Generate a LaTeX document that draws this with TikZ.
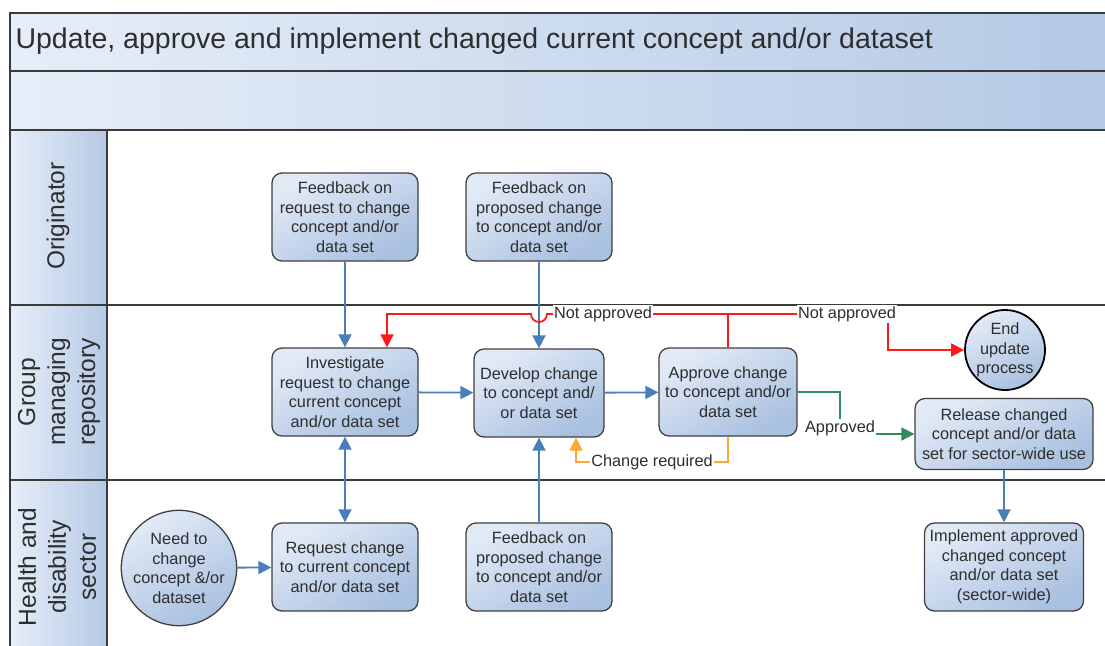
\documentclass[tikz,border=0pt]{standalone}
\usepackage{fontspec}
\setmainfont{Liberation Sans}
\usetikzlibrary{arrows.meta,shapes.geometric,calc}
\definecolor{boxlight}{HTML}{E2EAF6}
\definecolor{boxdark}{HTML}{A9C0E0}
\definecolor{hdrlight}{HTML}{E6EEF8}
\definecolor{hdrdark}{HTML}{B5C9E5}
\definecolor{frame}{HTML}{3A3A3A}
\definecolor{boxline}{HTML}{404040}
\definecolor{txt}{HTML}{2E2E2E}
\definecolor{flowblue}{HTML}{4A7EBB}
\definecolor{flowred}{HTML}{FF1A1A}
\definecolor{floworange}{HTML}{FFA833}
\definecolor{flowgreen}{HTML}{2E8B5A}
\tikzset{
  stepbox/.style={draw=boxline, line width=1.3pt, rounded corners=10pt,
    top color=boxlight, bottom color=boxdark, shading angle=30,
    minimum width=146pt, minimum height=88pt, inner sep=1pt, align=center,
    text=txt, font=\fontsize{16.3}{19.5}\selectfont},
  roundnode/.style={circle, draw=boxline, line width=1.3pt,
    top color=boxlight, bottom color=boxdark, shading angle=30,
    inner sep=0pt, align=center, text=txt, font=\fontsize{16.3}{19.5}\selectfont},
  lanelbl/.style={rotate=90, align=center, text=txt, font=\fontsize{24.5}{30}\selectfont},
  flowlbl/.style={fill=white, inner sep=1.5pt, text=txt, font=\fontsize{16.3}{18}\selectfont},
  tip/.style={-{Triangle[length=13pt,width=13pt]}},
  blueflow/.style={draw=flowblue, line width=1.8pt},
  redflow/.style={draw=flowred, line width=1.8pt},
  orangeflow/.style={draw=floworange, line width=1.8pt},
  greenflow/.style={draw=flowgreen, line width=1.8pt},
  bandline/.style={draw=frame, line width=1.6pt},
}
\begin{document}
\begin{tikzpicture}[x=1pt,y=-1pt]
\useasboundingbox (0,0) rectangle (1105,645);
\clip (0,0) rectangle (1105,645);
\fill[white] (0,0) rectangle (1105,645);
% title bands
\shade[left color=hdrlight, right color=hdrdark] (10,13) rectangle (1110,71);
\shade[left color=hdrlight, right color=hdrdark] (10,71) rectangle (1110,130);
% lane headers
\shade[left color=hdrlight, right color=hdrdark] (10,130) rectangle (107,305);
\shade[left color=hdrlight, right color=hdrdark] (10,305) rectangle (107,480);
\shade[left color=hdrlight, right color=hdrdark] (10,480) rectangle (107,650);
% frame lines
\draw[bandline] (10,650) -- (10,13) -- (1110,13);
\draw[bandline] (10,71) -- (1110,71);
\draw[bandline] (10,130) -- (1110,130);
\draw[bandline] (10,305) -- (1110,305);
\draw[bandline] (10,480) -- (1110,480);
\draw[bandline] (107,130) -- (107,650);

\node[anchor=west, text=txt, font=\fontsize{28.5}{32}\selectfont] (title) at (12,41) {Update, approve and implement changed current concept and/or dataset};

\node[lanelbl] (laneO) at (58,216) {Originator};
\node[lanelbl] (laneG) at (59,392) {Group\\managing\\repository};
\node[lanelbl] (laneH) at (57,567) {Health and\\disability\\sector};

% nodes
\node[stepbox] (fb1) at (345,217) {Feedback on\\request to change\\concept and/or\\data set};
\node[stepbox] (fb2) at (539,217) {Feedback on\\proposed change\\to concept and/or\\data set};
\node[stepbox] (inv) at (345,392) {Investigate\\request to change\\current concept\\and/or data set};
\node[stepbox, minimum width=130pt] (dev) at (539,393) {Develop change\\to concept and/\\or data set};
\node[stepbox, minimum width=138pt] (app) at (728,392) {Approve change\\to concept and/or\\data set};
\node[roundnode, minimum size=80pt, line width=1.8pt, draw=black] (end) at (1005,350) {End\\update\\process};
\node[stepbox, minimum width=178pt, minimum height=71pt] (rel) at (1004,434) {Release changed\\concept and/or data\\set for sector-wide use};
\node[stepbox, minimum width=159pt] (impl) at (1004,567) {Implement approved\\changed concept\\and/or data set\\(sector-wide)};
\node[roundnode, minimum size=104pt] (need) at (179,568) {Need to\\change\\concept \&/or\\dataset};
\node[stepbox] (req) at (345,567) {Request change\\to current concept\\and/or data set};
\node[stepbox] (fb3) at (539,567) {Feedback on\\proposed change\\to concept and/or\\data set};

% blue flows
\draw[blueflow, tip] (fb1) -- (inv);
\draw[blueflow, tip] (fb2.south) -- (fb2.south |- dev.north);
\draw[blueflow, {Triangle[length=13pt,width=13pt]}-{Triangle[length=13pt,width=13pt]}] (inv) -- (req);
\draw[blueflow, tip] (fb3.north) -- (fb3.north |- dev.south);
\draw[blueflow, tip] (need) -- (req);
\draw[blueflow, tip] (inv) -- (dev);
\draw[blueflow, tip] (dev) -- (app);
\draw[blueflow, tip] (rel) -- (impl);

% change required
\coordinate (crA) at (728,462);
\coordinate (crB) at (576,462);
\draw[orangeflow, tip] (app.south) -- (crA) -- node[flowlbl] {Change required} (crB) -- ([xshift=37pt]dev.south);

% not approved
\coordinate (naA) at (728,314);
\coordinate (naB) at (547,314);
\coordinate (naC) at (387,314);
\coordinate (naD) at (888,314);
\coordinate (naE) at (888,350);
\draw[redflow, tip] (app.north) -- (naA) -- (naB) arc[start angle=0, end angle=-180, radius=8pt] -- (naC) -- ([xshift=42pt]inv.north);
\draw[redflow, tip] (naA) -- (naD) -- (naE) -- (end.west);
\node[flowlbl] (na1) at (603,314) {Not approved};
\node[flowlbl] (na2) at (847,314) {Not approved};

% approved
\coordinate (apA) at (840,392);
\coordinate (apB) at (840,434);
\draw[greenflow, tip] (app.east) -- (apA) -- (apB) -- (rel.west);
\node[flowlbl] (apl) at (840,428) {Approved};
\end{tikzpicture}
\end{document}
